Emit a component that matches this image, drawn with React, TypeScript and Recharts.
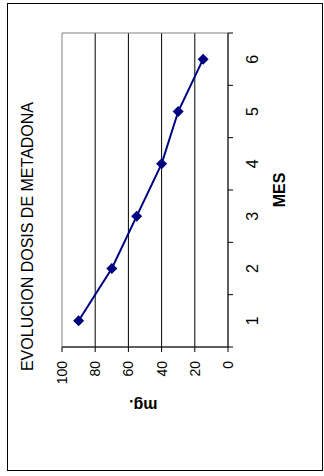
import { CartesianGrid, Line, LineChart, ReferenceArea, XAxis, YAxis } from 'recharts';

const MESES = [1, 2, 3, 4, 5, 6];
const DOSIS_MG = [90, 70, 55, 40, 30, 15];
const MG_TICKS = [0, 20, 40, 60, 80, 100];
const MG_GRID = [20, 40, 60, 80];

const TITULO = 'EVOLUCION DOSIS DE METADONA';
const EJE_X = 'MES';
const EJE_Y = 'mg.';

const FONT = 'Arial, "Liberation Sans", sans-serif';
const NAVY = '#000080';

// chart is drawn landscape, then turned a quarter turn counter-clockwise
const W = 468;
const H = 316;

const data = MESES.map((mes, i) => ({ mes, dosis: DOSIS_MG[i] }));

// tick marks sit between months, labels sit on the months
const xTicks = [...MESES.flatMap((m) => [m - 0.5, m]), MESES[MESES.length - 1] + 0.5];

function MesTick({ x, y, payload }: any) {
    const v = payload.value;
    if (!Number.isInteger(v)) {
        return <line x1={x} x2={x} y1={y} y2={y + 5} stroke="#000" />;
    }
    return (
        <text x={x} y={y + 29.5} textAnchor="middle" fontSize={16} fontFamily={FONT} fill="#000">
            {String(v)}
        </text>
    );
}

function Diamond({ cx, cy, index }: any) {
    if (cx == null || cy == null) return null;
    const r = 5.5;
    return (
        <polygon
            key={`d-${index}`}
            points={`${cx},${cy - r} ${cx + r},${cy} ${cx},${cy + r} ${cx - r},${cy}`}
            fill={NAVY}
        />
    );
}

export default function App() {
    return (
        <div style={{ position: 'absolute', left: 7, top: 3, width: H, height: W }}>
            <div
                style={{
                    position: 'absolute',
                    inset: 0,
                    border: '1px solid #000',
                    boxSizing: 'border-box',
                    background: '#fff',
                }}
            />
            <div
                style={{
                    position: 'absolute',
                    left: 0,
                    top: 0,
                    width: W,
                    height: H,
                    transformOrigin: '0 0',
                    transform: `translateY(${W}px) rotate(-90deg)`,
                }}
            >
                <LineChart width={W} height={H} data={data} margin={{ top: 55, right: 30, bottom: 0, left: 0 }}>
                    <CartesianGrid horizontal vertical={false} horizontalValues={MG_GRID} stroke="#000" />
                    <ReferenceArea x1={0.5} x2={6.5} y1={0} y2={100} fill="none" stroke="#808080" />
                    <XAxis
                        dataKey="mes"
                        type="number"
                        domain={[0.5, 6.5]}
                        ticks={xTicks}
                        interval={0}
                        height={95}
                        tickLine={false}
                        tickSize={0}
                        tickMargin={0}
                        axisLine={{ stroke: '#000' }}
                        tick={<MesTick />}
                    />
                    <YAxis
                        type="number"
                        domain={[0, 100]}
                        ticks={MG_TICKS}
                        interval={0}
                        width={124}
                        tickSize={5}
                        tickMargin={9}
                        axisLine={{ stroke: '#000' }}
                        tickLine={{ stroke: '#000' }}
                        tick={{ fill: '#000', fontSize: 14, fontFamily: FONT }}
                    />
                    <Line
                        dataKey="dosis"
                        stroke={NAVY}
                        strokeWidth={2}
                        dot={<Diamond />}
                        activeDot={false}
                        isAnimationActive={false}
                    />
                </LineChart>
                <svg
                    width={W}
                    height={H}
                    style={{ position: 'absolute', left: 0, top: 0, pointerEvents: 'none' }}
                >
                    <text x={234.5} y={26} textAnchor="middle" fontSize={16} fontFamily={FONT} fill="#000">
                        {TITULO}
                    </text>
                    <text
                        x={281}
                        y={278}
                        textAnchor="middle"
                        fontSize={16}
                        fontWeight="bold"
                        fontFamily={FONT}
                        fill="#000"
                    >
                        {EJE_X}
                    </text>
                    <text
                        x={71}
                        y={136.3}
                        transform="rotate(-90 71 136.3)"
                        textAnchor="middle"
                        fontSize={16}
                        fontWeight="bold"
                        fontFamily={FONT}
                        fill="#000"
                    >
                        {EJE_Y}
                    </text>
                </svg>
            </div>
        </div>
    );
}
